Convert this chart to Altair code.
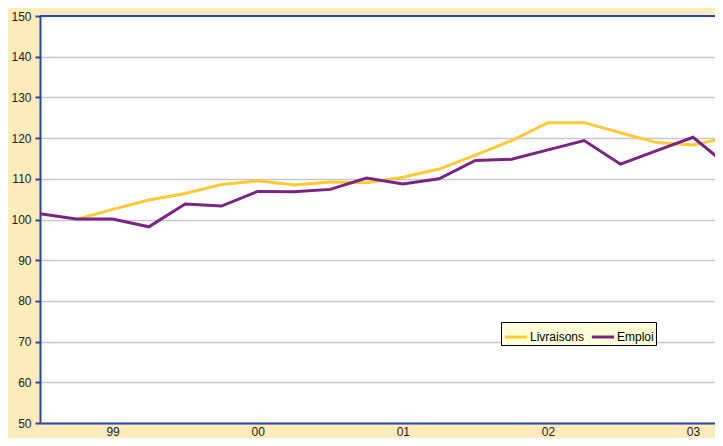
import altair as alt
import pandas as pd

# quarterly index positions
idx = list(range(20))
livraisons = [None, 100.0, 102.5, 104.8, 106.4, 108.6, 109.5, 108.5, 109.2, 109.0,
              110.4, 112.4, 115.8, 119.4, 123.8, 123.8, 121.3, 118.9, 118.3, 120.2]
emploi = [101.4, 100.1, 100.1, 98.2, 103.8, 103.3, 106.9, 106.8, 107.4, 110.2,
          108.7, 110.0, 114.5, 114.8, 117.1, 119.4, 113.6, 116.9, 120.2, 112.9]
year_labels = ["99", "00", "01", "02", "03"]
label_pos = [2, 6, 10, 14, 18]
series = ["Livraisons", "Emploi"]
colors = ["#FFC933", "#7A2383"]

rows = []
for i, v in zip(idx, livraisons):
    if v is not None:
        rows.append({"i": i, "v": v, "s": "Livraisons"})
df_l = pd.DataFrame(rows)
df_e = pd.DataFrame({"i": idx, "v": emploi, "s": "Emploi"})

expr = "''"
for p, lab in zip(reversed(label_pos), reversed(year_labels)):
    expr = f"datum.value == {p} ? '{lab}' : ({expr})"

BLUE = "#2B47A6"
W, H = 675, 407

xenc = alt.X("i:Q", scale=alt.Scale(domain=[0, W / 36.28], nice=False, zero=False),
             axis=alt.Axis(values=label_pos, labelExpr=expr, title=None, grid=False,
                           ticks=False, labelPadding=3))
yenc = alt.Y("v:Q", scale=alt.Scale(domain=[50, 150], nice=False, zero=False),
             axis=alt.Axis(values=list(range(50, 151, 10)), title=None, grid=True,
                           tickSize=5, labelPadding=4))
cenc = alt.Color("s:N", scale=alt.Scale(domain=series, range=colors),
                 legend=alt.Legend(title=None, orient="none", legendX=461, legendY=306,
                                   direction="horizontal"))

l1 = alt.Chart(df_l).mark_line(strokeWidth=3, clip=True).encode(x=xenc, y=yenc, color=cenc)
l2 = alt.Chart(df_e).mark_line(strokeWidth=3, clip=True).encode(x=xenc, y=yenc, color=cenc)
top = alt.Chart(df_e).mark_rule(color=BLUE, strokeWidth=2).encode(
    y=alt.value(0), x=alt.value(0), x2=alt.value(W))

chart = alt.layer(l1, l2, top).properties(
    width=W, height=H,
    autosize=alt.AutoSizeParams(type="none"),
    padding={"left": 32, "top": 8, "right": 0, "bottom": 15},
    background="#FDEBBB",
).configure_view(stroke=None, fill="white").configure_axis(
    domainColor=BLUE, domainWidth=2, tickColor=BLUE, tickWidth=2,
    gridColor="#C8C8C8", gridWidth=1.5,
    labelFont="Liberation Sans", labelFontSize=12, labelColor="#222222",
).configure_legend(
    fillColor="#FFFFD8", strokeColor="#000000", padding=2,
    symbolType="stroke", symbolStrokeWidth=3, symbolSize=500,
    labelFont="Liberation Sans", labelFontSize=12, labelColor="#000000",
    labelOffset=1, columnPadding=0, cornerRadius=0,
)

chart.save("out.html", embed_options={"renderer": "svg", "actions": False})
